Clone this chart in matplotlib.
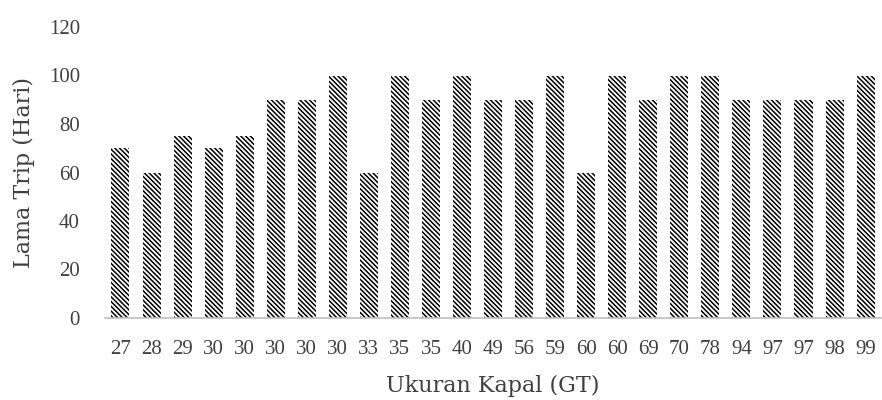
import matplotlib.pyplot as plt
import numpy as np

ukuran = ['27', '28', '29', '30', '30', '30', '30', '30', '33', '35', '35', '40', '49',
          '56', '59', '60', '60', '69', '70', '78', '94', '97', '97', '98', '99']
lama_trip = [70, 60, 75, 70, 75, 90, 90, 100, 60, 100, 90, 100, 90,
             90, 100, 60, 100, 90, 100, 100, 90, 90, 90, 90, 100]

plt.rcParams['hatch.linewidth'] = 1.1

fig = plt.figure(figsize=(8.82, 4), dpi=100)
ax = fig.add_axes([0.119, 0.205, 0.88, 0.7275])

x = np.arange(len(ukuran))
ax.bar(x, lama_trip, width=0.58, color='white', edgecolor='black',
       hatch='\\' * 7, linewidth=0)

ax.set_xlim(-0.5, len(ukuran) - 0.5)
ax.set_ylim(0, 120)
ax.set_yticks(range(0, 121, 20))
ax.set_xticks(x)
ax.set_xticklabels(ukuran)

for s in ['top', 'right', 'left']:
    ax.spines[s].set_visible(False)
ax.spines['bottom'].set_color('#bfbfbf')
ax.spines['bottom'].set_linewidth(1.2)
ax.tick_params(length=0, labelsize=15, colors='#404040')
ax.tick_params(axis='x', pad=16)
ax.tick_params(axis='y', pad=18)
for lab in ax.get_xticklabels() + ax.get_yticklabels():
    lab.set_family('Liberation Serif')

ax.set_ylabel('Lama Trip (Hari)', family='DejaVu Serif', fontsize=16, color='#404040', labelpad=10)
ax.set_xlabel('Ukuran Kapal (GT)', family='DejaVu Serif', fontsize=16, color='#404040', labelpad=11)

plt.savefig('out.png', dpi=100)
